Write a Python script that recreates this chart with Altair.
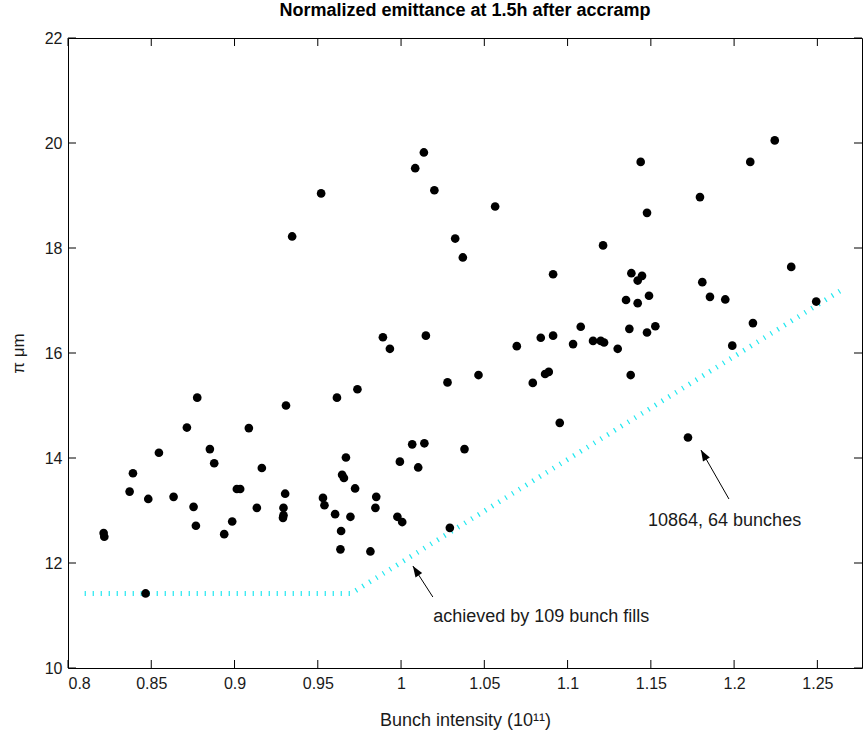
import math
import altair as alt
import pandas as pd

# Bunch intensity (1e11) and normalized emittance (pi um) per fill
intensity = [
    0.9520, 0.9346, 0.8776, 0.9309, 0.9615, 0.8714, 0.9086, 0.8852, 0.8546, 0.8878,
    0.9164, 0.8390, 0.9669, 0.8370, 0.8482, 0.8634, 0.9014, 0.9034, 0.9304, 0.8754,
    0.9134, 0.9294, 0.9291, 0.9294, 0.9531, 0.9540, 0.9604, 0.9640, 0.9636, 0.8768,
    0.8986, 0.8938, 0.8214, 0.8218, 0.8466, 1.0137, 1.0085, 1.0200, 1.0565, 1.0325,
    1.0371, 1.1213, 1.0913, 0.9891, 0.9933, 1.0149, 1.0695, 1.0839, 1.0913, 1.1079,
    1.1033, 1.1153, 1.1199, 1.1219, 1.0279, 1.0465, 1.0791, 1.0865, 1.0887, 0.9738,
    1.0953, 1.0067, 1.0140, 1.0381, 0.9993, 1.0103, 0.9646, 0.9657, 0.9724, 0.9851,
    0.9846, 0.9696, 0.9978, 1.0007, 0.9816, 1.0293, 1.2244, 1.1439, 1.2097, 1.1795,
    1.1477, 1.2343, 1.1383, 1.1447, 1.1421, 1.1809, 1.1489, 1.1351, 1.1421, 1.1855,
    1.1947, 1.2493, 1.1371, 1.1477, 1.1527, 1.2113, 1.1301, 1.1989, 1.1379, 1.1723,
]
emittance = [
    19.04, 18.22, 15.15, 15.00, 15.15, 14.58, 14.57, 14.17, 14.10, 13.90,
    13.81, 13.71, 14.01, 13.36, 13.22, 13.26, 13.41, 13.41, 13.32, 13.07,
    13.05, 13.05, 12.86, 12.91, 13.24, 13.10, 12.93, 12.61, 12.26, 12.71,
    12.79, 12.55, 12.57, 12.50, 11.42, 19.82, 19.52, 19.10, 18.79, 18.18,
    17.82, 18.05, 17.50, 16.30, 16.08, 16.33, 16.13, 16.29, 16.33, 16.50,
    16.17, 16.23, 16.23, 16.20, 15.44, 15.58, 15.43, 15.60, 15.64, 15.31,
    14.67, 14.26, 14.28, 14.17, 13.93, 13.82, 13.68, 13.62, 13.42, 13.26,
    13.05, 12.88, 12.88, 12.78, 12.22, 12.67, 20.05, 19.64, 19.64, 18.97,
    18.67, 17.64, 17.52, 17.47, 17.38, 17.35, 17.09, 17.01, 16.95, 17.07,
    17.02, 16.98, 16.46, 16.39, 16.51, 16.57, 16.08, 16.14, 15.58, 14.39,
]

# Lower envelope achieved by 109 bunch fills
limit_x = [0.810, 0.970, 1.266]
limit_y = [11.42, 11.42, 17.23]

# Annotations: label anchor, arrow tail and arrow tip
note_text = ["achieved by 109 bunch fills", "10864, 64 bunches"]
note_x = [1.0193, 1.1483]
note_y = [10.97, 12.80]
tail_x = [1.0191, 1.1969]
tail_y = [11.352, 13.219]
tip_x = [1.0071, 1.1801]
tip_y = [11.943, 14.152]

x_ticks = [0.8, 0.85, 0.9, 0.95, 1.0, 1.05, 1.1, 1.15, 1.2, 1.25]
y_ticks = [10, 12, 14, 16, 18, 20, 22]

X_DOMAIN = [0.8, 1.2768]
Y_DOMAIN = [10, 22]
W, H = 794, 630
FONT = "Liberation Sans"
INK = "#1a1a1a"

pts = pd.DataFrame({"x": intensity, "y": emittance})
lim = pd.DataFrame({"x": limit_x, "y": limit_y, "o": range(len(limit_x))})

# arrow head rotation in screen space
px_per_x = W / (X_DOMAIN[1] - X_DOMAIN[0])
px_per_y = H / (Y_DOMAIN[1] - Y_DOMAIN[0])
angles = []
for tx, ty, hx, hy in zip(tail_x, tail_y, tip_x, tip_y):
    dx = (hx - tx) * px_per_x
    dy = -(hy - ty) * px_per_y
    angles.append(math.degrees(math.atan2(dx, -dy)) % 360)

notes = pd.DataFrame({
    "label": note_text, "lx": note_x, "ly": note_y,
    "tx": tail_x, "ty": tail_y, "hx": tip_x, "hy": tip_y, "ang": angles,
})
xt = pd.DataFrame({"t": x_ticks})
yt = pd.DataFrame({"t": y_ticks})

xs = alt.Scale(domain=X_DOMAIN, nice=False, zero=False)
ys = alt.Scale(domain=Y_DOMAIN, nice=False, zero=False)

x_axis = alt.Axis(
    values=x_ticks, format="~g", ticks=False, domain=False, grid=False,
    labelPadding=7, title="Bunch intensity (10¹¹)", titlePadding=20,
    labelFont=FONT, labelFontSize=16, labelColor=INK,
    titleFont=FONT, titleFontSize=18, titleFontWeight="normal", titleColor=INK,
)
y_axis = alt.Axis(
    values=y_ticks, format="d", ticks=False, domain=False, grid=False,
    labelPadding=6, title="π μm", titlePadding=17,
    labelFont=FONT, labelFontSize=16, labelColor=INK,
    titleFont=FONT, titleFontSize=17, titleFontWeight="normal", titleColor=INK,
)

points = alt.Chart(pts).mark_circle(size=75, color="black", opacity=1).encode(
    x=alt.X("x:Q", scale=xs, axis=x_axis),
    y=alt.Y("y:Q", scale=ys, axis=y_axis),
)

limit = alt.Chart(lim).mark_line(
    color="#22e8f0", strokeWidth=5, strokeDash=[1.2, 6.8]
).encode(
    x=alt.X("x:Q", scale=xs), y=alt.Y("y:Q", scale=ys), order="o:Q"
)

TL = 8
bottom_ticks = alt.Chart(xt).mark_rule(color="black", strokeWidth=1).encode(
    x=alt.X("t:Q", scale=xs), y=alt.value(H), y2=alt.value(H - TL)
)
top_ticks = alt.Chart(xt).mark_rule(color="black", strokeWidth=1).encode(
    x=alt.X("t:Q", scale=xs), y=alt.value(0), y2=alt.value(TL)
)
left_ticks = alt.Chart(yt).mark_rule(color="black", strokeWidth=1).encode(
    y=alt.Y("t:Q", scale=ys), x=alt.value(0), x2=alt.value(TL)
)
right_ticks = alt.Chart(yt).mark_rule(color="black", strokeWidth=1).encode(
    y=alt.Y("t:Q", scale=ys), x=alt.value(W), x2=alt.value(W - TL)
)

shafts = alt.Chart(notes).mark_rule(color="black", strokeWidth=1).encode(
    x=alt.X("tx:Q", scale=xs), y=alt.Y("ty:Q", scale=ys),
    x2="hx:Q", y2="hy:Q",
)
heads = alt.Chart(notes).mark_point(
    shape="M0,0 L-0.36,1 L0.36,1 Z", filled=True, color="black",
    opacity=1, size=484, strokeWidth=0,
).encode(
    x=alt.X("hx:Q", scale=xs), y=alt.Y("hy:Q", scale=ys),
    angle=alt.Angle("ang:Q", scale=None),
)
labels = alt.Chart(notes).mark_text(
    align="left", baseline="middle", font=FONT, fontSize=18, color=INK
).encode(
    x=alt.X("lx:Q", scale=xs), y=alt.Y("ly:Q", scale=ys), text="label:N"
)

chart = alt.layer(
    limit, points, bottom_ticks, top_ticks, left_ticks, right_ticks,
    shafts, heads, labels,
).properties(
    width=W, height=H,
    background="white",
    title=alt.TitleParams(
        "Normalized emittance at 1.5h after accramp",
        font=FONT, fontSize=18, fontWeight="bold", anchor="middle",
        frame="group", baseline="alphabetic", offset=0, dy=4, color="black",
    ),
    autosize=alt.AutoSizeParams(type="none"),
    padding={"left": 68, "top": 38, "right": 1, "bottom": 72},
).configure_view(
    stroke="black", strokeWidth=1
)

chart.save("out.html", embed_options={"renderer": "svg", "actions": False})
